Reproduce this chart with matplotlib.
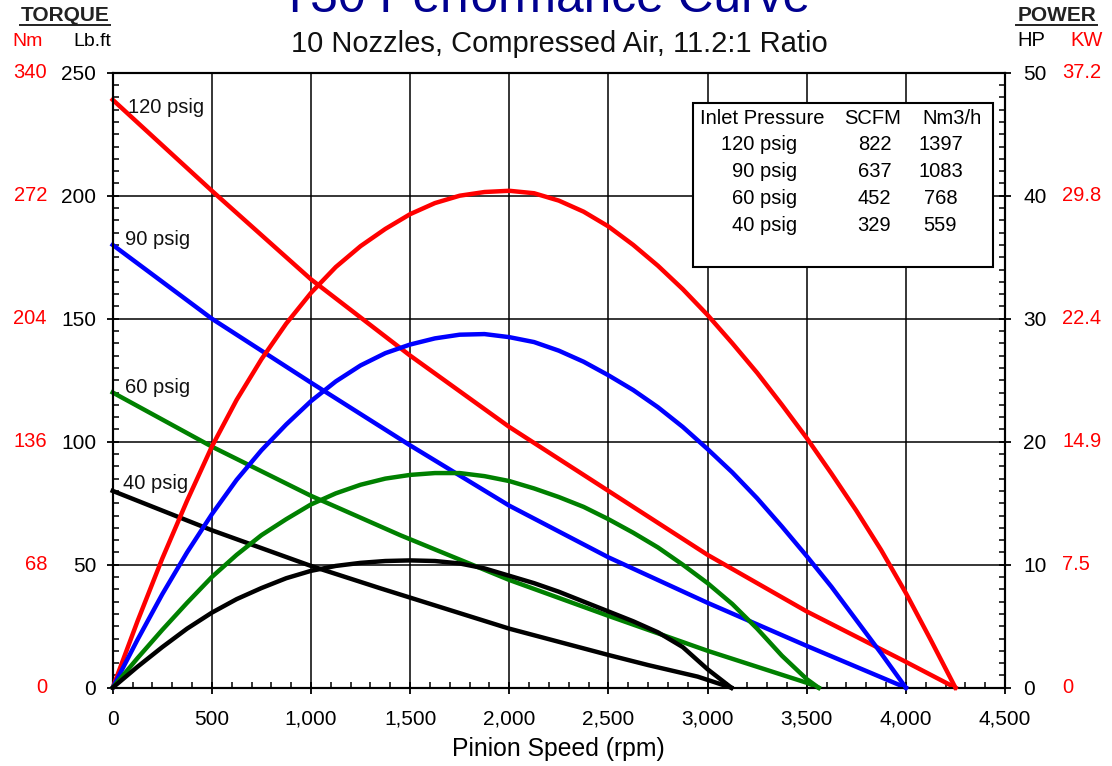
import matplotlib
matplotlib.use('Agg')
import matplotlib.pyplot as plt
from matplotlib.lines import Line2D
from matplotlib.ticker import MultipleLocator, StrMethodFormatter
from matplotlib.transforms import blended_transform_factory

plt.rcParams['font.family'] = ['Liberation Sans', 'DejaVu Sans']

W, H = 1112, 766

# ---- data ----
labels = ['120 psig', '90 psig', '60 psig', '40 psig']
colors = ['#ff0000', '#0000ff', '#008000', '#000000']

# torque (lb.ft) vs pinion speed (rpm)
rpm_t_120 = [0, 500, 1000, 1500, 2000, 2500, 3000, 3500, 4000, 4250]
tq_120 = [239, 202, 166, 135, 106, 80, 54, 31, 10.5, 0]
rpm_t_90 = [0, 500, 1000, 1500, 2000, 2500, 3000, 3500, 4000]
tq_90 = [180, 150, 124, 98.5, 74, 53, 34.5, 17, 0]
rpm_t_60 = [0, 500, 1000, 1450, 2000, 2500, 3000, 3500, 3560]
tq_60 = [120, 98, 78, 62, 43.8, 29.2, 15.0, 2.0, 0]
rpm_t_40 = [0, 500, 1000, 1350, 2000, 2500, 2700, 2950, 3120]
tq_40 = [80, 64, 49.5, 40.4, 24, 13.3, 9.2, 4.5, 0]

# power (HP) vs pinion speed (rpm)
rpm_p_120 = [0, 125, 250, 375, 500, 625, 750, 875, 1000, 1125, 1250, 1375,
             1500, 1625, 1750, 1875, 2000, 2125, 2250, 2375, 2500, 2625,
             2750, 2875, 3000, 3125, 3250, 3375, 3500, 3625, 3750, 3875,
             4000, 4125, 4250]
hp_120 = [0, 5.4, 10.5, 15.2, 19.6, 23.4, 26.7, 29.6, 32.1, 34.2, 35.9,
          37.3, 38.5, 39.4, 40.0, 40.3, 40.4, 40.2, 39.6, 38.7, 37.5, 36.0,
          34.3, 32.4, 30.3, 28.0, 25.6, 23.0, 20.3, 17.4, 14.4, 11.2,
          7.7, 3.9, 0]
rpm_p_90 = [0, 125, 250, 375, 500, 625, 750, 875, 1000, 1125, 1250, 1375,
            1500, 1625, 1750, 1875, 2000, 2125, 2250, 2375, 2500, 2625,
            2750, 2875, 3000, 3125, 3250, 3375, 3500, 3625, 3750, 3875,
            4000]
hp_90 = [0, 3.9, 7.6, 11.0, 14.1, 16.9, 19.3, 21.4, 23.3, 24.9, 26.2,
         27.2, 27.9, 28.4, 28.7, 28.75, 28.5, 28.1, 27.4, 26.5, 25.4, 24.2,
         22.8, 21.2, 19.4, 17.5, 15.4, 13.1, 10.7, 8.2, 5.5, 2.8, 0]
rpm_p_60 = [0, 125, 250, 375, 500, 625, 750, 875, 1000, 1125, 1250, 1375,
            1500, 1625, 1750, 1875, 2000, 2125, 2250, 2375, 2500, 2625,
            2750, 2875, 3000, 3125, 3250, 3375, 3500, 3560]
hp_60 = [0, 2.4, 4.7, 6.9, 9.0, 10.8, 12.4, 13.7, 14.9, 15.8, 16.5, 17.0,
         17.3, 17.45, 17.45, 17.2, 16.8, 16.2, 15.5, 14.7, 13.7, 12.6,
         11.4, 10.0, 8.5, 6.8, 4.8, 2.6, 0.7, 0]
rpm_p_40 = [0, 125, 250, 375, 500, 625, 750, 875, 1000, 1125, 1250, 1375,
            1500, 1625, 1750, 1875, 2000, 2125, 2250, 2375, 2500, 2625,
            2750, 2875, 3000, 3120]
hp_40 = [0, 1.7, 3.3, 4.8, 6.1, 7.2, 8.1, 8.9, 9.5, 9.9, 10.15, 10.3,
         10.35, 10.3, 10.1, 9.7, 9.1, 8.5, 7.8, 7.0, 6.2, 5.4, 4.5, 3.3,
         1.5, 0]

torque_rpm = [rpm_t_120, rpm_t_90, rpm_t_60, rpm_t_40]
torque_val = [tq_120, tq_90, tq_60, tq_40]
power_rpm = [rpm_p_120, rpm_p_90, rpm_p_60, rpm_p_40]
power_val = [hp_120, hp_90, hp_60, hp_40]

# curve label anchor (rpm, lb.ft)
label_x = [77, 62, 62, 52]
label_y = [236, 182, 122, 83]

# secondary scales
lbft_ticks = [0, 50, 100, 150, 200, 250]
nm_labels = ['0', '68', '136', '204', '272', '340']
hp_ticks = [0, 10, 20, 30, 40, 50]
kw_labels = ['0', '7.5', '14.9', '22.4', '29.8', '37.2']

# flow table
tbl_pressure = ['120 psig', '90 psig', '60 psig', '40 psig']
tbl_scfm = [822, 637, 452, 329]
tbl_nm3h = [1397, 1083, 768, 559]

# ---- figure ----
fig = plt.figure(figsize=(W / 100, H / 100), dpi=100)
ax = fig.add_axes([112.7 / W, 1 - 687.7 / H, (1005 - 112.7) / W, (687.7 - 72.7) / H])
ax2 = ax.twinx()

ax.set_xlim(0, 4500)
ax.set_ylim(0, 250)
ax2.set_ylim(0, 50)
ax.xaxis.set_major_locator(MultipleLocator(500))
ax.xaxis.set_minor_locator(MultipleLocator(100))
ax.yaxis.set_major_locator(MultipleLocator(50))
ax.yaxis.set_minor_locator(MultipleLocator(5))
ax2.yaxis.set_major_locator(MultipleLocator(10))
ax2.yaxis.set_minor_locator(MultipleLocator(1))
ax.xaxis.set_major_formatter(StrMethodFormatter('{x:,.0f}'))

ax.grid(True, which='major', color='black', linewidth=1.1)
ax.set_axisbelow(True)
for a in (ax, ax2):
    for s in a.spines.values():
        s.set_linewidth(1.5)
ax.tick_params(which='major', direction='inout', length=8, width=1.3,
               labelsize=15, colors='black')
ax.tick_params(axis='x', which='major', pad=12)
ax.tick_params(axis='y', which='major', pad=8)
ax.tick_params(which='minor', direction='in', length=4, width=1.1)
ax2.tick_params(which='major', direction='inout', length=8, width=1.3,
                labelsize=15, pad=9)
ax2.tick_params(which='minor', direction='in', length=4, width=1.1)

for r, v, c in zip(torque_rpm, torque_val, colors):
    ax.plot(r, v, color=c, linewidth=3.2, clip_on=False, zorder=3,
            solid_joinstyle='round')
for r, v, c in zip(power_rpm, power_val, colors):
    ax2.plot(r, v, color=c, linewidth=3.2, clip_on=False, zorder=3,
             solid_joinstyle='round')

for lx, ly, t in zip(label_x, label_y, labels):
    ax.text(lx, ly, t, fontsize=14.5, ha='left', va='center', color='#111111')

ax.set_xlabel('Pinion Speed (rpm)', fontsize=17.8, labelpad=6)

# red metric scales
tr_l = blended_transform_factory(fig.transFigure, ax.transData)
for v, s in zip(lbft_ticks, nm_labels):
    ax.text(47 / W, v, s, transform=tr_l, ha='right', va='center',
            fontsize=14.5, color='#ff0000')
tr_r = blended_transform_factory(fig.transFigure, ax2.transData)
for v, s in zip(hp_ticks, kw_labels):
    ax2.text(1062 / W, v, s, transform=tr_r, ha='left', va='center',
             fontsize=14.5, color='#ff0000')

# headers
fig.text(65 / W, 1 - 21 / H, 'TORQUE', ha='center', va='baseline',
         fontsize=15, fontweight='bold', color='#222222')
fig.add_artist(Line2D([20 / W, 110 / W], [1 - 25 / H] * 2,
                      transform=fig.transFigure, color='#222222', lw=1.4))
fig.text(28 / W, 1 - 46 / H, 'Nm', ha='center', va='baseline',
         fontsize=14, color='#ff0000')
fig.text(92 / W, 1 - 46 / H, 'Lb.ft', ha='center', va='baseline',
         fontsize=14, color='black')
fig.text(1057 / W, 1 - 21 / H, 'POWER', ha='center', va='baseline',
         fontsize=15, fontweight='bold', color='#222222')
fig.add_artist(Line2D([1016 / W, 1097 / W], [1 - 25 / H] * 2,
                      transform=fig.transFigure, color='#222222', lw=1.4))
fig.text(1031 / W, 1 - 46 / H, 'HP', ha='center', va='baseline',
         fontsize=14.5, color='black')
fig.text(1087 / W, 1 - 46 / H, 'KW', ha='center', va='baseline',
         fontsize=14.5, color='#ff0000')

# title (cut off at the top edge) and subtitle
fig.text(545.5 / W, 1 - 12 / H, 'T30 Performance Curve', ha='center',
         va='baseline', fontsize=35.7, color='#000090')
fig.text(559 / W, 1 - 52 / H, '10 Nozzles, Compressed Air, 11.2:1 Ratio',
         ha='center', va='baseline', fontsize=21, color='#111111')

# flow table box
box = plt.Rectangle((693.3 / W, 1 - 266.7 / H), (993.3 - 693.3) / W,
                    (266.7 - 103.3) / H, transform=fig.transFigure,
                    facecolor='white', edgecolor='black', linewidth=1.5,
                    zorder=5)
fig.add_artist(box)
fig.text(700 / W, 1 - 118.3 / H, 'Inlet Pressure', ha='left', va='center',
         fontsize=14.5, zorder=6)
fig.text(872.5 / W, 1 - 118.3 / H, 'SCFM', ha='center', va='center',
         fontsize=14.5, zorder=6)
fig.text(952.5 / W, 1 - 118.3 / H, 'Nm3/h', ha='center', va='center',
         fontsize=14.5, zorder=6)
for i, (p, q, n) in enumerate(zip(tbl_pressure, tbl_scfm, tbl_nm3h)):
    yy = 1 - (145 + 26.9 * i) / H
    fig.text(797 / W, yy, p, ha='right', va='center', fontsize=14.5, zorder=6)
    fig.text(874.5 / W, yy, str(q), ha='center', va='center', fontsize=14.5,
             zorder=6)
    fig.text(940.5 / W, yy, str(n), ha='center', va='center', fontsize=14.5,
             zorder=6)

fig.savefig('out.png', dpi=100, facecolor='white')
